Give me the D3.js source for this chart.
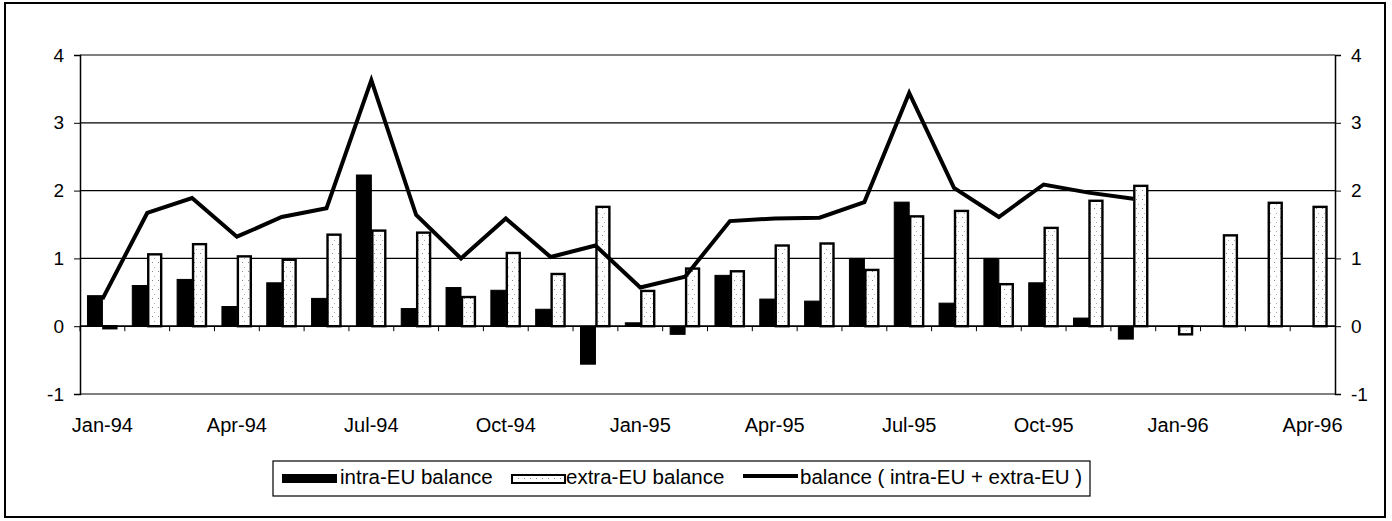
<!DOCTYPE html>
<html>
<head>
<meta charset="utf-8">
<script src="https://cdn.jsdelivr.net/npm/d3@7"></script>
<style>
  body { margin: 0; background: #fff; }
  text { font-family: "Liberation Sans", Arial, sans-serif; fill: #000; }
</style>
</head>
<body>
<div id="chart"></div>
<script>
// months on the category axis
var months = ["Jan-94","Feb-94","Mar-94","Apr-94","May-94","Jun-94","Jul-94","Aug-94","Sep-94","Oct-94","Nov-94","Dec-94",
              "Jan-95","Feb-95","Mar-95","Apr-95","May-95","Jun-95","Jul-95","Aug-95","Sep-95","Oct-95","Nov-95","Dec-95",
              "Jan-96","Feb-96","Mar-96","Apr-96"];
var monthLabels = ["Jan-94","Apr-94","Jul-94","Oct-94","Jan-95","Apr-95","Jul-95","Oct-95","Jan-96","Apr-96"];

// series (null = no value)
var intraEU = [0.45,0.60,0.69,0.29,0.64,0.41,2.23,0.26,0.57,0.53,0.25,-0.56,
               0.05,-0.12,0.75,0.40,0.37,1.00,1.83,0.34,1.00,0.64,0.12,-0.19,
               null,null,null,null];
var extraEU = [-0.03,1.06,1.21,1.03,0.98,1.35,1.41,1.38,0.43,1.08,0.77,1.76,
               0.52,0.85,0.81,1.19,1.22,0.83,1.62,1.70,0.62,1.45,1.85,2.07,
               -0.12,1.34,1.82,1.76];
var balance = [0.40,1.67,1.89,1.32,1.61,1.74,3.63,1.64,1.00,1.59,1.02,1.19,
               0.57,0.73,1.55,1.59,1.60,1.83,3.44,2.04,1.61,2.09,1.97,1.88,
               null,null,null,null];
var yTicks = [-1,0,1,2,3,4];
var legendNames = ["intra-EU balance", "extra-EU balance", "balance ( intra-EU + extra-EU )"];

var W = 1392, H = 521;
var plotL = 80, plotR = 1335, plotT = 55, plotB = 394;

var svg = d3.select("#chart").append("svg")
  .attr("width", W).attr("height", H);

// dotted fill for extra-EU bars
var defs = svg.append("defs");
var pat = defs.append("pattern")
  .attr("id", "dots").attr("patternUnits", "userSpaceOnUse")
  .attr("width", 6).attr("height", 9);
pat.append("rect").attr("width", 6).attr("height", 9).attr("fill", "#fff");
pat.append("rect").attr("x", 2).attr("y", 1).attr("width", 1).attr("height", 1).attr("fill", "#888");
pat.append("rect").attr("x", 4).attr("y", 6).attr("width", 1).attr("height", 1).attr("fill", "#aaa");

// outer frame
svg.append("rect")
  .attr("x", 5).attr("y", 3).attr("width", 1380).attr("height", 514)
  .attr("fill", "none").attr("stroke", "#000").attr("stroke-width", 2);

var x = d3.scaleBand().domain(months).range([plotL, plotR]).paddingInner(0).paddingOuter(0);
var x1 = d3.scaleBand().domain(["intra","extra"]).range([0, x.bandwidth()]).paddingInner(0).paddingOuter(0.5);
var y = d3.scaleLinear().domain([-1, 4]).range([plotB, plotT]);

// gridlines
svg.append("g").selectAll("line")
  .data(yTicks)
  .enter().append("line")
  .attr("x1", plotL).attr("x2", plotR)
  .attr("y1", function(d){ return y(d); })
  .attr("y2", function(d){ return y(d); })
  .attr("stroke", "#000").attr("stroke-width", 1.2);

// left and right value axes (plain hyphen for -1)
var fmt = function(d){ return String(d); };
var yLeft = svg.append("g")
  .attr("transform", "translate(" + plotL + ",0)")
  .call(d3.axisLeft(y).tickValues(yTicks).tickSize(6).tickPadding(10).tickFormat(fmt));
var yRight = svg.append("g")
  .attr("transform", "translate(" + plotR + ",0)")
  .call(d3.axisRight(y).tickValues(yTicks).tickSize(6).tickPadding(10).tickFormat(fmt));
[yLeft, yRight].forEach(function(g){
  g.select(".domain").attr("stroke", "#000").attr("stroke-width", 1.5);
  g.selectAll(".tick line").attr("stroke", "#000");
  g.selectAll("text").style("font-size", "19px").style("font-family", "Liberation Sans, Arial, sans-serif");
});

// category axis on the zero line
var xAxisG = svg.append("g").attr("transform", "translate(0," + y(0) + ")");
xAxisG.append("line")
  .attr("x1", plotL).attr("x2", plotR).attr("stroke", "#000").attr("stroke-width", 1.5);
xAxisG.selectAll(".ctick")
  .data(months)
  .enter().append("line")
  .attr("class", "ctick")
  .attr("x1", function(d){ return x(d); })
  .attr("x2", function(d){ return x(d); })
  .attr("y1", 0).attr("y2", 5)
  .attr("stroke", "#000");

// month labels under the plot
svg.append("g").selectAll("text")
  .data(monthLabels)
  .enter().append("text")
  .attr("x", function(d){ return x(d) + x.bandwidth() / 2; })
  .attr("y", 432)
  .attr("text-anchor", "middle")
  .style("font-size", "20px")
  .text(function(d){ return d; });

// intra-EU bars
svg.append("g").selectAll("rect")
  .data(months.map(function(m, i){ return {m: m, v: intraEU[i]}; }).filter(function(d){ return d.v !== null; }))
  .enter().append("rect")
  .attr("x", function(d){ return x(d.m) + x1("intra"); })
  .attr("width", x1.bandwidth())
  .attr("y", function(d){ return y(Math.max(0, d.v)); })
  .attr("height", function(d){ return Math.abs(y(d.v) - y(0)); })
  .attr("fill", "#000").attr("stroke", "#000").attr("stroke-width", 1);

// extra-EU bars
svg.append("g").selectAll("rect")
  .data(months.map(function(m, i){ return {m: m, v: extraEU[i]}; }).filter(function(d){ return d.v !== null; }))
  .enter().append("rect")
  .attr("x", function(d){ return x(d.m) + x1("extra") + 1; })
  .attr("width", x1.bandwidth() - 2)
  .attr("y", function(d){ return y(Math.max(0, d.v)); })
  .attr("height", function(d){ return Math.abs(y(d.v) - y(0)); })
  .attr("fill", "url(#dots)").attr("stroke", "#000").attr("stroke-width", 2.4);

// balance line
var line = d3.line()
  .defined(function(d){ return d.v !== null; })
  .x(function(d){ return x(d.m) + x.bandwidth() / 2; })
  .y(function(d){ return y(d.v); });
svg.append("path")
  .datum(months.map(function(m, i){ return {m: m, v: balance[i]}; }))
  .attr("d", line)
  .attr("fill", "none").attr("stroke", "#000").attr("stroke-width", 4)
  .attr("stroke-linejoin", "miter");

// legend
var lg = svg.append("g");
lg.append("rect")
  .attr("x", 273).attr("y", 461).attr("width", 817).attr("height", 35)
  .attr("fill", "#fff").attr("stroke", "#000").attr("stroke-width", 1.2);
lg.append("rect").attr("x", 282).attr("y", 474).attr("width", 55).attr("height", 9).attr("fill", "#000");
lg.append("rect").attr("x", 512).attr("y", 475).attr("width", 53).attr("height", 8)
  .attr("fill", "url(#dots)").attr("stroke", "#000").attr("stroke-width", 2);
lg.append("line").attr("x1", 743).attr("x2", 798).attr("y1", 476).attr("y2", 476)
  .attr("stroke", "#000").attr("stroke-width", 4);
var legendX = [340, 566, 800];
lg.selectAll(".ltext")
  .data(legendNames)
  .enter().append("text")
  .attr("class", "ltext")
  .attr("x", function(d, i){ return legendX[i]; })
  .attr("y", 484)
  .style("font-size", "20.5px")
  .text(function(d){ return d; });
</script>
</body>
</html>
